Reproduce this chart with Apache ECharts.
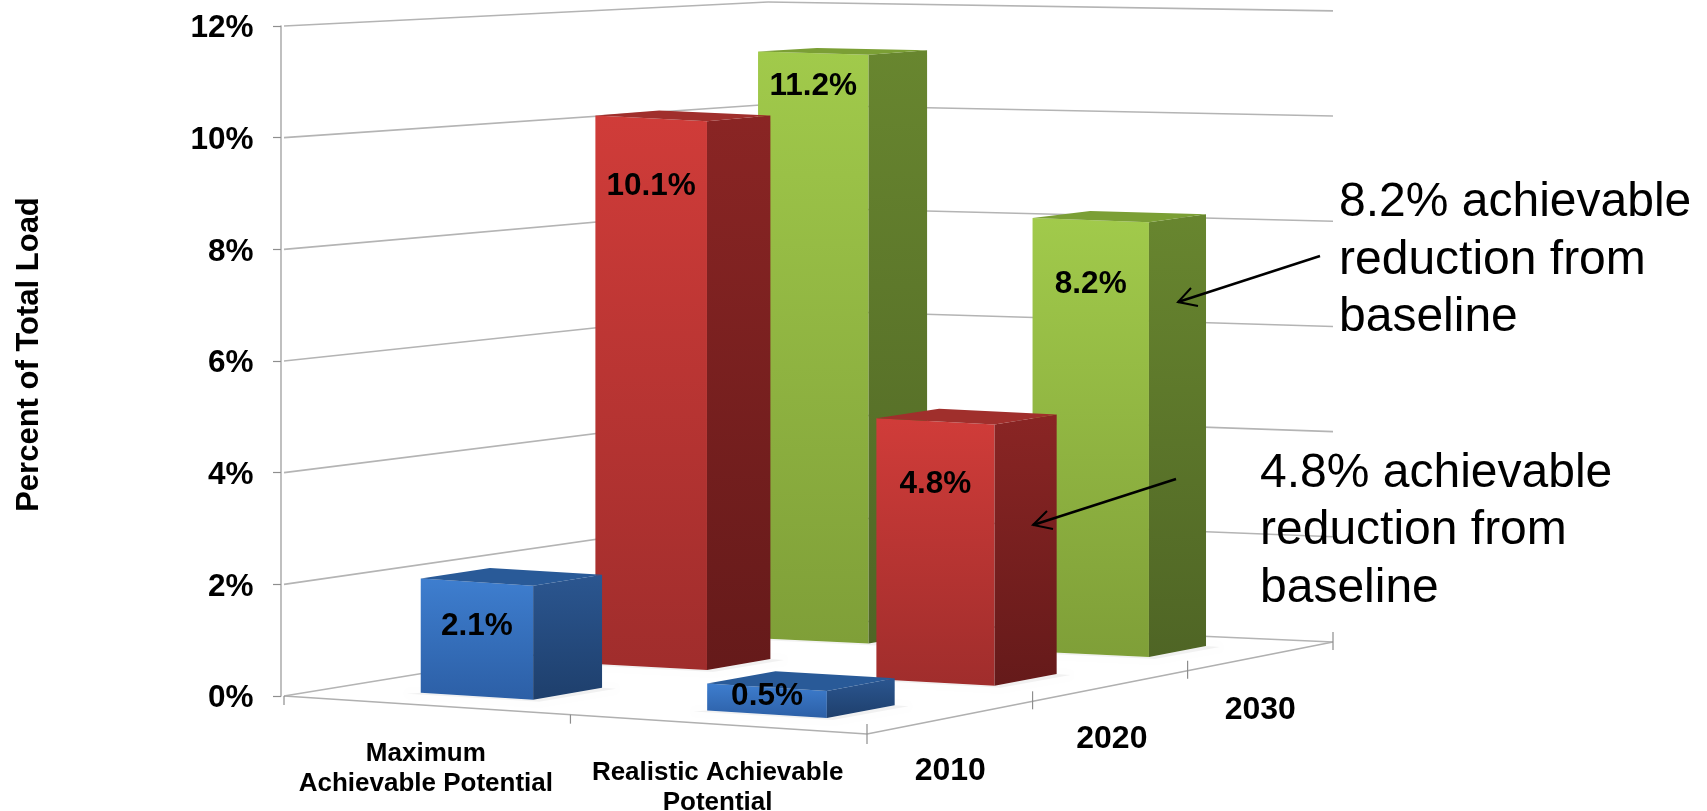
<!DOCTYPE html>
<html><head><meta charset="utf-8">
<style>html,body{margin:0;padding:0;background:#fff}#c{width:1707px;height:811px}</style>
<script src="https://cdn.jsdelivr.net/npm/echarts@6/dist/echarts.min.js"></script>
</head><body><div id="c"></div>
<script>
const categories = ['Maximum\nAchievable Potential', 'Realistic Achievable\nPotential'];
const years = ['2010', '2020', '2030'];
const values2010 = [2.1, 0.5];
const values2020 = [10.1, 4.8];
const values2030 = [11.2, 8.2];
const yTicks = [0, 2, 4, 6, 8, 10, 12];
const callouts = ['8.2% achievable\nreduction from\nbaseline', '4.8% achievable\nreduction from\nbaseline'];

const FONT = '"Liberation Sans", Arial, sans-serif';
/* perspective set-up of the 3-D box (floor corners, wall height ratio per corner) */
const FLOOR = { FL: [284, 696], FR: [867, 734], BR: [1333, 642], BL: [768, 617] };
const HEIGHT = { FL: 1, FR: 0.985, BR: 0.942, BL: 0.918 };
const BAR = { du: [0.41, 0.39], dv: 0.40, vc: [0.53, 0.565, 0.61], uShift: { 0: [0, 0], 1: [0, -0.01], 2: [0, -0.022] }, k: [0.985, 1.01, 1.002], dy: [1.5, 2, 3.5] };
const COL = {
  0: { f: ['#3e7ecf', '#2c5fa6'], s: ['#2b5690', '#1e3f6c'], t: '#295a98' },
  1: { f: ['#d03c39', '#a02d2c'], s: ['#8a2524', '#651a1a'], t: '#a02f2c' },
  2: { f: ['#a1ca4b', '#7f9f38'], s: ['#68862f', '#4f6525'], t: '#7b9f35' }
};
const DROP = { 0: [44, 9], 1: [68, 63], 2: [33, 64] };

const H = (function () {
  const [x0, y0] = FLOOR.FL, [x1, y1] = FLOOR.FR, [x2, y2] = FLOOR.BR, [x3, y3] = FLOOR.BL;
  const dx1 = x1 - x2, dx2 = x3 - x2, sx = x0 - x1 + x2 - x3;
  const dy1 = y1 - y2, dy2 = y3 - y2, sy = y0 - y1 + y2 - y3;
  const den = dx1 * dy2 - dx2 * dy1;
  const g = (sx * dy2 - dx2 * sy) / den, h = (dx1 * sy - sx * dy1) / den;
  return { a: x1 - x0 + g * x1, b: x3 - x0 + h * x3, c: x0, d: y1 - y0 + g * y1, e: y3 - y0 + h * y3, f: y0, g, h };
})();

function project(api, u, v, val) {
  const s = u / 2, t = v / 3, w = H.g * s + H.h * t + 1;
  const x = (H.a * s + H.b * t + H.c) / w, y = (H.d * s + H.e * t + H.f) / w;
  const k = HEIGHT.FL * (1 - s) * (1 - t) + HEIGHT.FR * s * (1 - t) + HEIGHT.BR * s * t + HEIGHT.BL * (1 - s) * t;
  const wall = api.coord([0, 0])[1] - api.coord([0, val])[1];
  return [x, y - wall * k];
}
const grad = (c) => ({ type: 'linear', x: 0, y: 0, x2: 0, y2: 1, colorStops: [{ offset: 0, color: c[0] }, { offset: 1, color: c[1] }] });
const poly = (points, fill, extra) => ({ type: 'polygon', shape: { points }, style: Object.assign({ fill }, extra || {}) });
const line = (a, b, color, w) => ({ type: 'line', shape: { x1: a[0], y1: a[1], x2: b[0], y2: b[1] }, style: { stroke: color, lineWidth: w, fill: null } });

function barSeries(depth, values) {
  return {
    type: 'custom', name: years[depth], silent: true, xAxisIndex: 0, yAxisIndex: 0,
    data: values.map((v, i) => [i, v]),
    renderItem(params, api) {
      const i = api.value(0), val = api.value(1), c = COL[depth];
      const uc = i + 0.5 + BAR.uShift[depth][i], vc = depth + BAR.vc[depth];
      const u0 = uc - BAR.du[i] / 2, u1 = uc + BAR.du[i] / 2;
      const v0 = vc - BAR.dv / 2, v1 = vc + BAR.dv / 2;
      const tall = val * BAR.k[depth];
      const P = (u, v, h) => { const p = project(api, u, v, h); return [p[0], p[1] + BAR.dy[depth]]; };
      const fl = P(u0, v0, 0), fr = P(u1, v0, 0), br = P(u1, v1, 0);
      const tfl = P(u0, v0, tall), tfr = P(u1, v0, tall), tbr = P(u1, v1, tall), tbl = P(u0, v1, tall);
      const cx = (tfl[0] + tfr[0]) / 2, cy = (tfl[1] + tfr[1]) / 2 + DROP[depth][i];
      return {
        type: 'group', children: [
          poly([fl, fr, br, [br[0] + 14, br[1] + 1], [fr[0] + 6, fr[1] + 2], [fl[0] - 14, fl[1] + 1]], 'rgba(0,0,0,0.05)', { shadowBlur: 5, shadowColor: 'rgba(0,0,0,0.10)' }),
          poly([tfl, tfr, fr, fl], grad(c.f)),
          poly([tfr, tbr, br, fr], grad(c.s)),
          poly([tfl, tbl, tbr, tfr], c.t),
          { type: 'text', style: { x: cx, y: cy, text: val.toFixed(1) + '%', fill: '#000', font: 'bold 31.5px ' + FONT, textAlign: 'center', textVerticalAlign: 'middle' } }
        ]
      };
    }
  };
}

const wallSeries = {
  type: 'custom', name: 'walls', silent: true, xAxisIndex: 0, yAxisIndex: 0,
  data: yTicks.map(t => [0, t]),
  renderItem(params, api) {
    const h = api.value(1), a = project(api, 0, 0, h), b = project(api, 0, 3, h), c = project(api, 2, 3, h);
    const t = api.coord([0, h]);
    return {
      type: 'group', children: [
        line(a, b, '#b4b4b4', 1.6), line(b, c, '#b4b4b4', 1.6),
        { type: 'text', style: { x: t[0] - 27.5, y: t[1] + 2.5, text: h + '%', fill: '#000', font: 'bold 31.5px ' + FONT, textAlign: 'right', textVerticalAlign: 'middle' } }
      ]
    };
  }
};

const floorSeries = {
  type: 'custom', name: 'floor', silent: true, xAxisIndex: 0, yAxisIndex: 0,
  data: [[0, 0]],
  renderItem(params, api) {
    const kids = [line(project(api, 0, 0, 0), project(api, 2, 0, 0), '#b0b0b0', 1.6), line(project(api, 2, 0, 0), project(api, 2, 3, 0), '#b0b0b0', 1.6)];
    [0, 1.04, 2].forEach(u => { const p = project(api, u, 0, 0); kids.push(line([p[0], p[1] - (u === 2 ? 10 : 0)], [p[0], p[1] + (u === 2 ? 10 : 9)], '#8e8e8e', 1.2)); });
    [0.98, 1.98, 3].forEach(v => { const p = project(api, 2, v, 0); kids.push(line([p[0], p[1] - 10], [p[0], p[1] + 8], '#8e8e8e', 1.2)); });
    categories.forEach((c, i) => {
      const p = project(api, i + 0.53, 0, 0);
      kids.push({ type: 'text', style: { x: p[0], y: p[1] + 64, text: c, fill: '#000', font: 'bold 26px ' + FONT, lineHeight: 30, textAlign: 'center', textVerticalAlign: 'middle' } });
    });
    years.forEach((c, i) => {
      const p = project(api, 2, i + 0.5, 0);
      kids.push({ type: 'text', style: { x: p[0] - 3, y: p[1] + 54.5, text: c, fill: '#000', font: 'bold 32px ' + FONT, textAlign: 'center', textVerticalAlign: 'middle' } });
    });
    return { type: 'group', children: kids };
  }
};

function arrow(tail, tip) {
  return { type: 'polyline', silent: true, z: 50, shape: { points: [tail, tip] }, style: { stroke: '#000', lineWidth: 2.4, fill: null } };
}
function head(b1, tip, b2) {
  return { type: 'polyline', silent: true, z: 50, shape: { points: [b1, tip, b2] }, style: { stroke: '#000', lineWidth: 2, fill: null } };
}
const calloutText = (s, x, y) => ({ type: 'text', silent: true, z: 50, x, y, style: { text: s, fill: '#000', font: '48px ' + FONT, lineHeight: 57.5, textAlign: 'left', textVerticalAlign: 'top' } });

const chart = echarts.init(document.getElementById('c'), null, { renderer: 'canvas' });
chart.setOption({
  animation: false,
  backgroundColor: '#fff',
  grid: { left: 281, top: 26, width: 586, height: 670, containLabel: false },
  xAxis: { type: 'value', min: 0, max: 2, interval: 1, show: false },
  yAxis: {
    type: 'value', min: 0, max: 12, interval: 2,
    name: 'Percent of Total Load', nameLocation: 'middle', nameGap: 236, nameRotate: 90,
    nameTextStyle: { fontFamily: FONT, fontWeight: 'bold', fontSize: 31, color: '#000', padding: [0, 0, 0, 13] },
    axisLine: { show: true, lineStyle: { color: '#b0b0b0', width: 1.6 } },
    axisTick: { show: true, length: 8, lineStyle: { color: '#8e8e8e', width: 1.2 } },
    splitLine: { show: false },
    axisLabel: { show: false }
  },
  series: [wallSeries, floorSeries, barSeries(2, values2030), barSeries(1, values2020), barSeries(0, values2010)],
  graphic: [
    arrow([1320, 256], [1178, 302]), head([1191, 288], [1178, 302], [1198, 306]),
    arrow([1176, 479], [1033, 525]), head([1047, 511], [1033, 525], [1053, 529]),
    calloutText(callouts[0], 1339, 174.5),
    calloutText(callouts[1], 1260, 445)
  ]
});
</script></body></html>
